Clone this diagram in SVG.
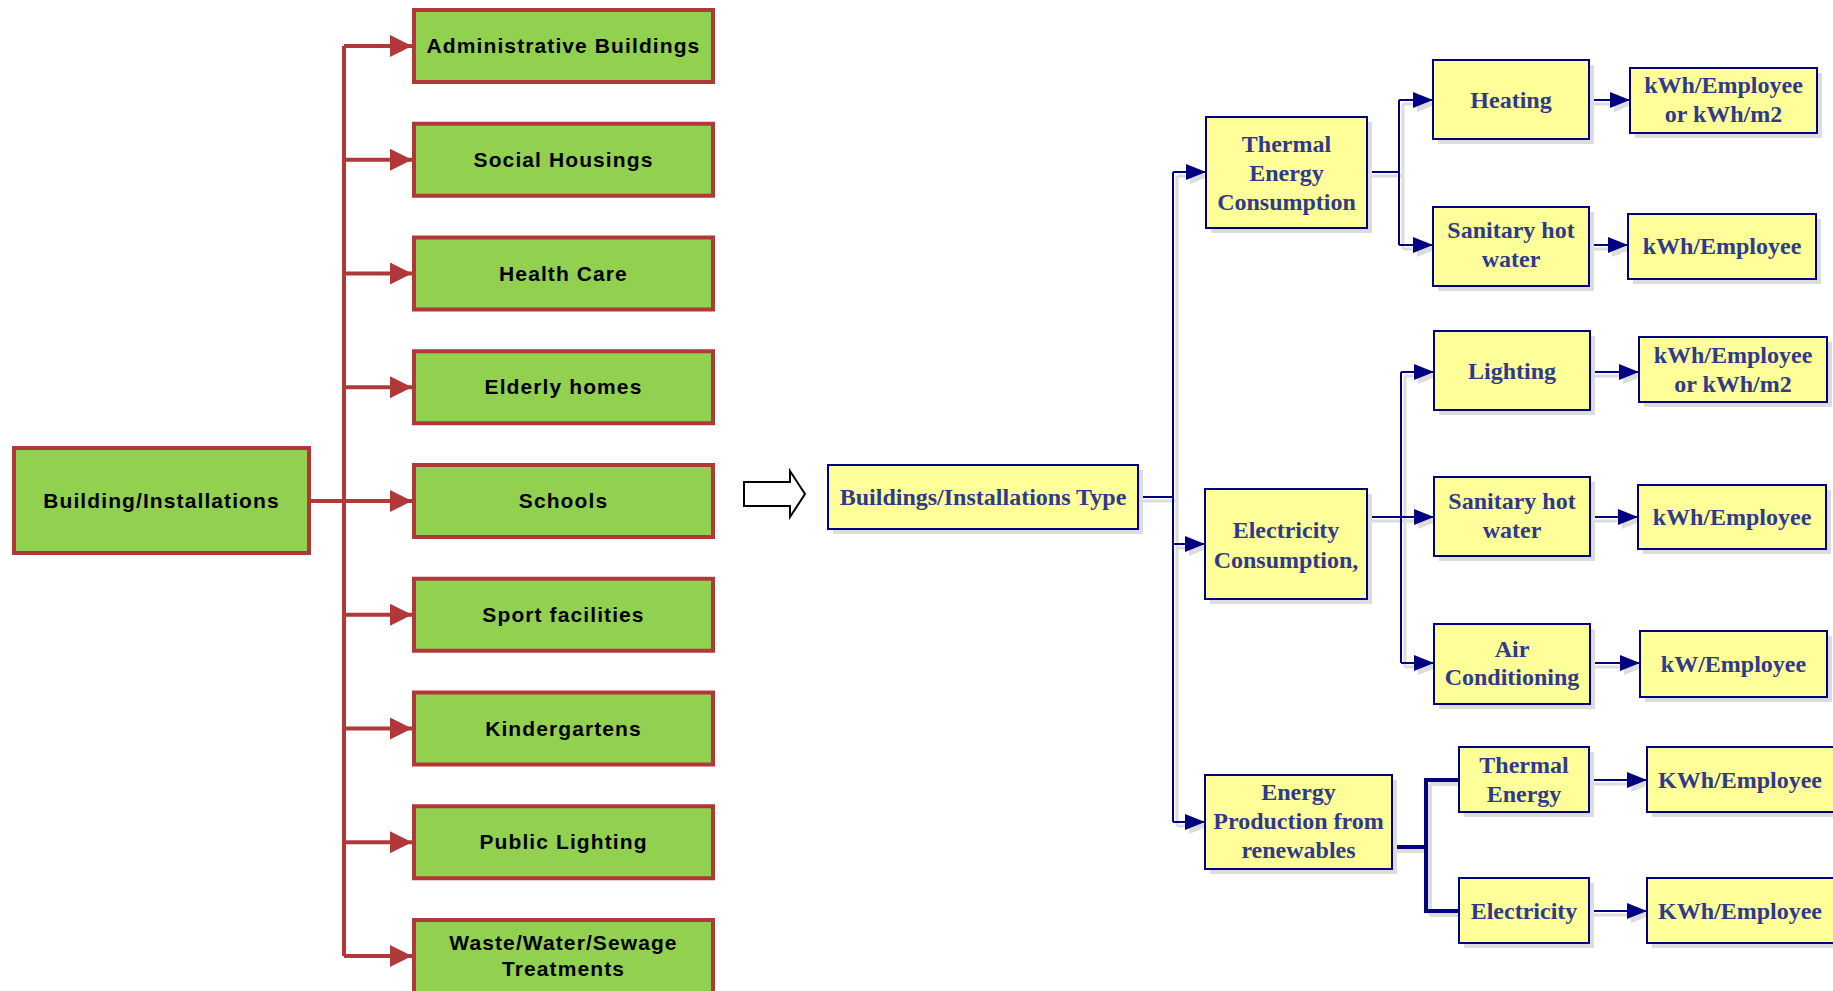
<svg xmlns="http://www.w3.org/2000/svg" width="1833" height="991" viewBox="0 0 1833 991">
<style>
.g{fill:#92D050;stroke:#B03838;stroke-width:4}
.gt{font-family:"Liberation Sans",Arial,sans-serif;font-weight:bold;font-size:21px;letter-spacing:1.1px;fill:#000;text-anchor:middle}
.y{fill:#FFFF99;stroke:#000080;stroke-width:2}
.sh{fill:#DCDCDC}
.yt{font-family:"Liberation Serif","Times New Roman",serif;font-weight:bold;font-size:24px;fill:#2F3A8A;text-anchor:middle}
.rl{fill:none;stroke:#B03838;stroke-width:4}
.bl{fill:none;stroke:#000080;stroke-width:2}
.blt{fill:none;stroke:#000080;stroke-width:4}
.sl{fill:none;stroke:#DCDCDC;stroke-width:3}
.slt{fill:none;stroke:#DCDCDC;stroke-width:4}
</style>
<defs>
<marker id="ar" markerWidth="22" markerHeight="22" refX="22" refY="11" orient="auto" markerUnits="userSpaceOnUse"><path d="M0,0 L22,11 L0,22 z" fill="#B03838"/></marker>
<marker id="ab" markerWidth="20" markerHeight="16" refX="20" refY="8" orient="auto" markerUnits="userSpaceOnUse"><path d="M0,0 L20,8 L0,16 z" fill="#000080"/></marker>
<marker id="as" markerWidth="20" markerHeight="16" refX="20" refY="8" orient="auto" markerUnits="userSpaceOnUse"><path d="M0,0 L20,8 L0,16 z" fill="#DCDCDC"/></marker>
</defs>
<rect width="1833" height="991" fill="#fff"/>

<g id="connectors">
<g id="red-connectors">
<path class="rl" d="M344,46 V956"/>
<path class="rl" d="M310,501 H344"/>
<path class="rl" marker-end="url(#ar)" d="M344,46 H412"/>
<path class="rl" marker-end="url(#ar)" d="M344,159.75 H412"/>
<path class="rl" marker-end="url(#ar)" d="M344,273.5 H412"/>
<path class="rl" marker-end="url(#ar)" d="M344,387.25 H412"/>
<path class="rl" marker-end="url(#ar)" d="M344,501 H412"/>
<path class="rl" marker-end="url(#ar)" d="M344,614.75 H412"/>
<path class="rl" marker-end="url(#ar)" d="M344,728.5 H412"/>
<path class="rl" marker-end="url(#ar)" d="M344,842.25 H412"/>
<path class="rl" marker-end="url(#ar)" d="M344,956 H412"/>
</g>
<g id="connector-shadows" transform="translate(4,4)">
<path class="sl" d="M1138,497 H1173 M1173,172 V822 M1367,172 H1399 M1399,100 V245 M1367,517 H1401 M1401,372 V663"/>
<path class="sl" marker-end="url(#as)" d="M1173,172 H1206"/>
<path class="sl" marker-end="url(#as)" d="M1173,544 H1205"/>
<path class="sl" marker-end="url(#as)" d="M1173,822 H1205"/>
<path class="sl" marker-end="url(#as)" d="M1399,100 H1433"/>
<path class="sl" marker-end="url(#as)" d="M1399,245 H1433"/>
<path class="sl" marker-end="url(#as)" d="M1589,100 H1630"/>
<path class="sl" marker-end="url(#as)" d="M1589,245 H1628"/>
<path class="sl" marker-end="url(#as)" d="M1401,372 H1434"/>
<path class="sl" marker-end="url(#as)" d="M1401,517 H1434"/>
<path class="sl" marker-end="url(#as)" d="M1401,663 H1434"/>
<path class="sl" marker-end="url(#as)" d="M1590,372 H1639"/>
<path class="sl" marker-end="url(#as)" d="M1590,517 H1638"/>
<path class="sl" marker-end="url(#as)" d="M1590,663 H1640"/>
<path class="sl" marker-end="url(#as)" d="M1589,780 H1647"/>
<path class="sl" marker-end="url(#as)" d="M1589,911 H1647"/>
<path class="slt" d="M1392,847 H1426 M1426,780 V911 M1426,780 H1459 M1426,911 H1459"/>
</g>
<g id="blue-connectors">
<path class="bl" d="M1138,497 H1173 M1173,172 V822 M1367,172 H1399 M1399,100 V245 M1367,517 H1401 M1401,372 V663"/>
<path class="bl" marker-end="url(#ab)" d="M1173,172 H1206"/>
<path class="bl" marker-end="url(#ab)" d="M1173,544 H1205"/>
<path class="bl" marker-end="url(#ab)" d="M1173,822 H1205"/>
<path class="bl" marker-end="url(#ab)" d="M1399,100 H1433"/>
<path class="bl" marker-end="url(#ab)" d="M1399,245 H1433"/>
<path class="bl" marker-end="url(#ab)" d="M1589,100 H1630"/>
<path class="bl" marker-end="url(#ab)" d="M1589,245 H1628"/>
<path class="bl" marker-end="url(#ab)" d="M1401,372 H1434"/>
<path class="bl" marker-end="url(#ab)" d="M1401,517 H1434"/>
<path class="bl" marker-end="url(#ab)" d="M1401,663 H1434"/>
<path class="bl" marker-end="url(#ab)" d="M1590,372 H1639"/>
<path class="bl" marker-end="url(#ab)" d="M1590,517 H1638"/>
<path class="bl" marker-end="url(#ab)" d="M1590,663 H1640"/>
<path class="bl" marker-end="url(#ab)" d="M1589,780 H1647"/>
<path class="bl" marker-end="url(#ab)" d="M1589,911 H1647"/>
<path class="blt" d="M1392,847 H1426 M1426,778 V913 M1424,780 H1459 M1424,911 H1459"/>
</g>
<path id="block-arrow" d="M744,482 H790 V471 L805,494 L790,517 V506 H744 Z" fill="#fff" stroke="#000" stroke-width="2" stroke-linejoin="miter"/>
</g>

<g id="n-building"><rect class="g" x="14" y="448" width="295" height="105"/><text class="gt" x="161.5" y="508">Building/Installations</text></g>
<g id="n-admin"><rect class="g" x="414" y="10" width="299" height="72"/><text class="gt" x="563.5" y="53">Administrative Buildings</text></g>
<g id="n-social"><rect class="g" x="414" y="123.75" width="299" height="72"/><text class="gt" x="563.5" y="167">Social Housings</text></g>
<g id="n-health"><rect class="g" x="414" y="237.5" width="299" height="72"/><text class="gt" x="563.5" y="281">Health Care</text></g>
<g id="n-elderly"><rect class="g" x="414" y="351.25" width="299" height="72"/><text class="gt" x="563.5" y="394">Elderly homes</text></g>
<g id="n-schools"><rect class="g" x="414" y="465" width="299" height="72"/><text class="gt" x="563.5" y="508">Schools</text></g>
<g id="n-sport"><rect class="g" x="414" y="578.75" width="299" height="72"/><text class="gt" x="563.5" y="622">Sport facilities</text></g>
<g id="n-kinder"><rect class="g" x="414" y="692.5" width="299" height="72"/><text class="gt" x="563.5" y="736">Kindergartens</text></g>
<g id="n-publiclighting"><rect class="g" x="414" y="806.25" width="299" height="72"/><text class="gt" x="563.5" y="849">Public Lighting</text></g>
<g id="n-waste"><rect class="g" x="414" y="920" width="299" height="80"/><text class="gt" x="563.5" y="950">Waste/Water/Sewage</text><text class="gt" x="563.5" y="976">Treatments</text></g>

<g id="n-type"><rect class="sh" x="833" y="470" width="310" height="64"/><rect class="y" x="828" y="465" width="310" height="64"/><text class="yt" x="983" y="505">Buildings/Installations Type</text></g>
<g id="n-thermal"><rect class="sh" x="1211" y="122" width="161" height="111"/><rect class="y" x="1206" y="117" width="161" height="111"/><text class="yt" x="1286.5" y="152">Thermal</text><text class="yt" x="1286.5" y="181">Energy</text><text class="yt" x="1286.5" y="210">Consumption</text></g>
<g id="n-electricity"><rect class="sh" x="1210" y="494" width="162" height="110"/><rect class="y" x="1205" y="489" width="162" height="110"/><text class="yt" x="1286" y="538">Electricity</text><text class="yt" x="1286" y="568">Consumption,</text></g>
<g id="n-renewables"><rect class="sh" x="1210" y="780" width="187" height="94"/><rect class="y" x="1205" y="775" width="187" height="94"/><text class="yt" x="1298.5" y="800">Energy</text><text class="yt" x="1298.5" y="829">Production from</text><text class="yt" x="1298.5" y="858">renewables</text></g>

<g id="n-heating"><rect class="sh" x="1438" y="65" width="156" height="79"/><rect class="y" x="1433" y="60" width="156" height="79"/><text class="yt" x="1511" y="108">Heating</text></g>
<g id="n-sanitary1"><rect class="sh" x="1438" y="212" width="156" height="79"/><rect class="y" x="1433" y="207" width="156" height="79"/><text class="yt" x="1511" y="238">Sanitary hot</text><text class="yt" x="1511" y="267">water</text></g>
<g id="n-unit1"><rect class="sh" x="1635" y="73" width="187" height="65"/><rect class="y" x="1630" y="68" width="187" height="65"/><text class="yt" x="1723.5" y="93">kWh/Employee</text><text class="yt" x="1723.5" y="122">or kWh/m2</text></g>
<g id="n-unit2"><rect class="sh" x="1633" y="219" width="188" height="65"/><rect class="y" x="1628" y="214" width="188" height="65"/><text class="yt" x="1722" y="254">kWh/Employee</text></g>

<g id="n-lighting"><rect class="sh" x="1439" y="336" width="156" height="79"/><rect class="y" x="1434" y="331" width="156" height="79"/><text class="yt" x="1512" y="379">Lighting</text></g>
<g id="n-sanitary2"><rect class="sh" x="1439" y="482" width="156" height="79"/><rect class="y" x="1434" y="477" width="156" height="79"/><text class="yt" x="1512" y="509">Sanitary hot</text><text class="yt" x="1512" y="538">water</text></g>
<g id="n-aircon"><rect class="sh" x="1439" y="629" width="156" height="80"/><rect class="y" x="1434" y="624" width="156" height="80"/><text class="yt" x="1512" y="657">Air</text><text class="yt" x="1512" y="685">Conditioning</text></g>
<g id="n-unit3"><rect class="sh" x="1644" y="342" width="188" height="65"/><rect class="y" x="1639" y="337" width="188" height="65"/><text class="yt" x="1733" y="363">kWh/Employee</text><text class="yt" x="1733" y="392">or kWh/m2</text></g>
<g id="n-unit4"><rect class="sh" x="1643" y="490" width="188" height="64"/><rect class="y" x="1638" y="485" width="188" height="64"/><text class="yt" x="1732" y="525">kWh/Employee</text></g>
<g id="n-unit5"><rect class="sh" x="1645" y="636" width="187" height="66"/><rect class="y" x="1640" y="631" width="187" height="66"/><text class="yt" x="1733.5" y="672">kW/Employee</text></g>

<g id="n-thermal-re"><rect class="sh" x="1464" y="752" width="130" height="65"/><rect class="y" x="1459" y="747" width="130" height="65"/><text class="yt" x="1524" y="773">Thermal</text><text class="yt" x="1524" y="802">Energy</text></g>
<g id="n-electricity-re"><rect class="sh" x="1464" y="883" width="130" height="65"/><rect class="y" x="1459" y="878" width="130" height="65"/><text class="yt" x="1524" y="919">Electricity</text></g>
<g id="n-unit6"><rect class="sh" x="1652" y="752" width="200" height="65"/><rect class="y" x="1647" y="747" width="200" height="65"/><text class="yt" x="1740" y="788">KWh/Employee</text></g>
<g id="n-unit7"><rect class="sh" x="1652" y="883" width="200" height="65"/><rect class="y" x="1647" y="878" width="200" height="65"/><text class="yt" x="1740" y="919">KWh/Employee</text></g>
</svg>
